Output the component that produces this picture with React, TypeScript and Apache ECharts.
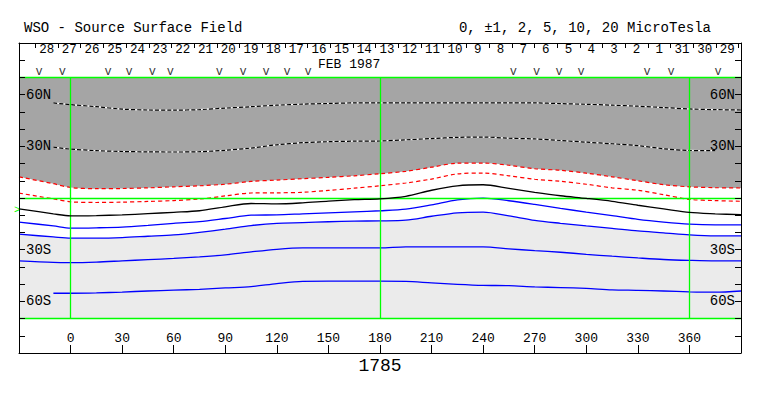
import React, { useEffect, useRef } from "react";
import * as echarts from "echarts";

const FONT = '"Liberation Mono", "DejaVu Sans Mono", monospace';

// Carrington longitude samples (degrees)
const LON = [-30, -10, 0, 15, 30, 45, 60, 75, 90, 105, 120, 135, 150, 165, 180, 195, 210, 225, 240, 255, 270, 285, 300, 315, 330, 345, 360, 375, 390];

// Contours (latitude in degrees at each LON)
const DOT_HIGH = [null, 55.2, 54.2, 53.0, 51.6, 51.1, 51.0, 51.3, 52.2, 53.0, 53.9, 54.5, 54.9, 55.2, 55.2, 55.2, 55.2, 55.2, 55.2, 55.2, 55.2, 54.8, 54.4, 53.9, 53.3, 52.5, 51.7, 51.3, 51.1];
const DOT_LOW = [null, 29.5, 28.4, 27.5, 27.0, 26.8, 26.7, 26.9, 27.7, 29.0, 30.9, 32.1, 32.7, 33.0, 33.1, 33.8, 34.5, 35.2, 35.4, 34.7, 34.3, 33.4, 32.4, 31.5, 30.4, 28.6, 27.6, 27.5, null];
const RED_1 = [12.3, 8.3, 6.1, 5.4, 5.5, 5.9, 6.5, 7.1, 8.0, 9.6, 10.4, 11.2, 12.0, 12.9, 14.1, 15.5, 17.9, 20.2, 20.3, 19.0, 17.0, 16.1, 14.4, 12.3, 10.0, 7.7, 6.5, 6.0, 5.8];
const RED_2 = [2.85, -0.5, -2.2, -2.6, -2.4, -2.0, -1.5, -0.6, 1.2, 2.9, 3.0, 3.3, 4.4, 5.7, 7.1, 8.7, 11.0, 14.0, 14.5, 12.9, 10.9, 9.7, 8.0, 5.9, 4.5, 1.9, -0.8, -1.5, -1.9];
const NEUTRAL = [-6.3, -9.2, -10.4, -10.2, -9.8, -9.1, -8.3, -7.4, -5.1, -3.2, -3.4, -2.8, -1.8, -1.0, -0.5, 1.0, 4.5, 7.1, 7.7, 5.6, 3.3, 1.3, -0.2, -1.9, -4.2, -6.3, -8.4, -9.2, -9.7];
const BLUE_1 = [-14.0, -16.2, -17.5, -17.3, -16.9, -15.9, -14.7, -13.7, -11.9, -10.0, -9.8, -9.2, -8.6, -8.0, -7.4, -6.5, -4.0, -1.05, -0.05, -1.6, -3.7, -6.0, -8.2, -10.2, -12.4, -14.0, -15.2, -15.6, -15.6];
const BLUE_2 = [-21.0, -22.6, -23.3, -23.3, -23.0, -22.2, -21.4, -19.9, -18.1, -16.0, -14.7, -14.3, -13.8, -13.4, -13.3, -12.9, -10.6, -8.6, -8.2, -10.4, -13.0, -14.7, -16.2, -17.6, -19.1, -20.2, -21.4, -22.0, -22.0];
const BLUE_3 = [-36.5, -37.4, -37.5, -37.2, -36.5, -35.8, -35.1, -34.2, -33.0, -31.3, -29.8, -29.0, -29.0, -29.0, -29.0, -28.4, -28.4, -28.4, -28.4, -29.5, -30.6, -31.5, -32.7, -33.8, -34.8, -35.7, -36.2, -36.5, -36.5];
const BLUE_4 = [null, -55.3, -55.3, -55.1, -54.6, -54.0, -53.5, -53.0, -52.2, -51.5, -49.7, -48.4, -48.3, -48.3, -48.3, -48.4, -49.3, -50.1, -50.7, -50.9, -51.6, -52.0, -52.5, -53.3, -53.6, -54.0, -54.5, -54.7, -54.0];

// plotted latitude band limits
const LAT_TOP = 70;
const LAT_BOTTOM = -70;

// observation marks ("v") longitudes
const OBS_LON = [-18.3, -4.8, 21.9, 34.1, 47.5, 58.0, 86.5, 100.4, 113.8, 126.0, 138.2, 257.5, 271.1, 284.2, 297.0, 335.4, 349.4, 376.7];

// day labels along the top (right to left in time)
const DAY_LABELS = ["28", "27", "26", "25", "24", "23", "22", "21", "20", "19", "18", "17", "16", "15", "14", "13", "12", "11", "10", "9", "8", "7", "6", "5", "4", "3", "2", "1", "31", "30", "29"];
const DAY_START = -20.5;
const DAY_DEG = 360 / 27.2753;

const LAT_LABELS: Record<string, string> = { "60": "60N", "30": "30N", "-30": "30S", "-60": "60S" };
const LON_LABELS = [0, 30, 60, 90, 120, 150, 180, 210, 240, 270, 300, 330, 360];

const TITLE_LEFT = "WSO - Source Surface Field";
const TITLE_RIGHT = "0, \u00b11, 2, 5, 10, 20 MicroTesla";
const MONTH_LABEL = "FEB 1987";
const ROTATION = "1785";

const zip = (vals: (number | null)[]) => LON.map((l, i) => [l, vals[i]]);

export default function App() {
  const ref = useRef<HTMLDivElement>(null);
  useEffect(() => {
    if (!ref.current) return;
    const chart = echarts.init(ref.current, undefined, { renderer: "svg" });
    const dayTicks = DAY_LABELS.map((_, k) => DAY_START + k * DAY_DEG).concat([DAY_START + DAY_LABELS.length * DAY_DEG]);
    const dayCenters = DAY_LABELS.map((_, k) => DAY_START + (k + 0.5) * DAY_DEG);

    const yAxis = (pos: "left" | "right") => ({
      type: "value",
      min: -90,
      max: 90,
      interval: 10,
      position: pos,
      z: 10,
      axisLine: { show: true, onZero: false, lineStyle: { color: "#000", width: 1 } },
      axisTick: { show: true, inside: true, length: 6, lineStyle: { color: "#000", width: 1 } },
      axisLabel: {
        show: true,
        inside: true,
        margin: pos === "left" ? 7 : 6,
        color: "#000",
        fontFamily: FONT,
        fontSize: 14,
        formatter: (v: number) => LAT_LABELS[String(v)] || "",
      },
      splitLine: { show: false },
    });

    const lineSeries = (vals: (number | null)[], color: string, type: any, width = 1.2, z = 3) => ({
      type: "line",
      data: zip(vals),
      symbol: "none",
      smooth: 0.3,
      silent: true,
      z,
      lineStyle: { color, width, type },
    });

    const green = "#00ff00";
    const option: any = {
      animation: false,
      backgroundColor: "#ffffff",
      grid: { left: 19, right: 22, top: 43, bottom: 43, show: false },
      xAxis: [
        {
          type: "value",
          min: -30,
          max: 390,
          interval: 30,
          position: "bottom",
          z: 10,
          axisLine: { show: true, onZero: false, lineStyle: { color: "#000", width: 1 } },
          axisTick: { show: true, inside: true, length: 8, lineStyle: { color: "#000", width: 1 } },
          axisLabel: {
            show: true,
            inside: true,
            margin: 8,
            color: "#000",
            fontFamily: FONT,
            fontSize: 13,
            formatter: (v: number) => (LON_LABELS.indexOf(v) >= 0 ? String(v) : ""),
          },
          splitLine: { show: false },
        },
        {
          type: "value",
          min: -30,
          max: 390,
          position: "top",
          z: 10,
          axisLine: { show: true, onZero: false, lineStyle: { color: "#000", width: 1 } },
          axisTick: { show: true, inside: true, length: 5, customValues: dayTicks, lineStyle: { color: "#000", width: 1 } },
          axisLabel: {
            show: true,
            inside: true,
            margin: 1,
            customValues: dayCenters,
            color: "#000",
            fontFamily: FONT,
            fontSize: 12.5,
            lineHeight: 11,
            formatter: (v: number) => {
              const k = Math.round((v - DAY_START) / DAY_DEG - 0.5);
              return DAY_LABELS[k] ?? "";
            },
          },
          splitLine: { show: false },
        },
      ],
      yAxis: [yAxis("left"), yAxis("right")],
      series: [
        // dark region: from lat 70 down to the first red contour
        {
          type: "line",
          data: zip(RED_1),
          symbol: "none",
          smooth: 0.3,
          silent: true,
          z: 1,
          lineStyle: { opacity: 0 },
          areaStyle: { color: "#a5a5a5", opacity: 1, origin: LAT_TOP },
        },
        // light region: from the second blue contour down to lat -70
        {
          type: "line",
          data: zip(BLUE_2),
          symbol: "none",
          smooth: 0.3,
          silent: true,
          z: 1,
          lineStyle: { opacity: 0 },
          areaStyle: { color: "#ebebeb", opacity: 1, origin: LAT_BOTTOM },
        },
        lineSeries(DOT_HIGH, "#ffffff", "solid", 1.2),
        lineSeries(DOT_HIGH, "#000000", [4, 2], 1.2),
        lineSeries(DOT_LOW, "#ffffff", "solid", 1.2),
        lineSeries(DOT_LOW, "#000000", [4, 2], 1.2),
        lineSeries(RED_1, "#ff0000", [4, 3], 1.2),
        lineSeries(RED_2, "#ff0000", [4, 3], 1.2),
        lineSeries(BLUE_1, "#0000ff", "solid", 1.3),
        lineSeries(BLUE_2, "#0000ff", "solid", 1.3),
        lineSeries(BLUE_3, "#0000ff", "solid", 1.3),
        lineSeries(BLUE_4, "#0000ff", "solid", 1.3),
        {
          ...lineSeries(NEUTRAL, "#000000", "solid", 1.3, 5),
          markLine: {
            silent: true,
            symbol: "none",
            label: { show: false },
            lineStyle: { color: green, width: 1.3, type: "solid" },
            data: [
              [{ coord: [0, LAT_BOTTOM] }, { coord: [0, LAT_TOP] }],
              [{ coord: [180, LAT_BOTTOM] }, { coord: [180, LAT_TOP] }],
              [{ coord: [360, LAT_BOTTOM] }, { coord: [360, LAT_TOP] }],
              [{ coord: [-30, LAT_TOP] }, { coord: [390, LAT_TOP] }],
              [{ coord: [-30, 0] }, { coord: [390, 0] }],
              [{ coord: [-30, LAT_BOTTOM] }, { coord: [390, LAT_BOTTOM] }],
            ],
          },
        },
        {
          type: "scatter",
          data: OBS_LON.map((l) => [l, 73.2]),
          symbol: "circle",
          symbolSize: 1,
          silent: true,
          z: 6,
          itemStyle: { color: "rgba(0,0,0,0)" },
          label: { show: true, position: "inside", formatter: "v", color: "#000", fontFamily: FONT, fontSize: 12 },
        },
      ],
      graphic: [
        { type: "text", x: 24, y: 28, style: { text: TITLE_LEFT, fill: "#000", font: `14px ${FONT}`, align: "left", verticalAlign: "middle" } },
        { type: "text", x: 711, y: 28, style: { text: TITLE_RIGHT, fill: "#000", font: `14px ${FONT}`, align: "right", verticalAlign: "middle" } },
        { type: "text", x: 318, y: 64, style: { text: MONTH_LABEL, fill: "#000", font: `13px ${FONT}`, lineHeight: 10, align: "left", verticalAlign: "middle" } },
        { type: "text", x: 380, y: 366, style: { text: ROTATION, fill: "#000", font: `18px ${FONT}`, align: "center", verticalAlign: "middle" } },
        { type: "text", x: 14, y: 210, style: { text: ">", fill: green, font: `11px ${FONT}`, align: "left", verticalAlign: "middle" } },
      ],
    };
    chart.setOption(option);
    return () => chart.dispose();
  }, []);
  return <div ref={ref} style={{ position: "absolute", left: 0, top: 0, width: 763, height: 396 }} />;
}
